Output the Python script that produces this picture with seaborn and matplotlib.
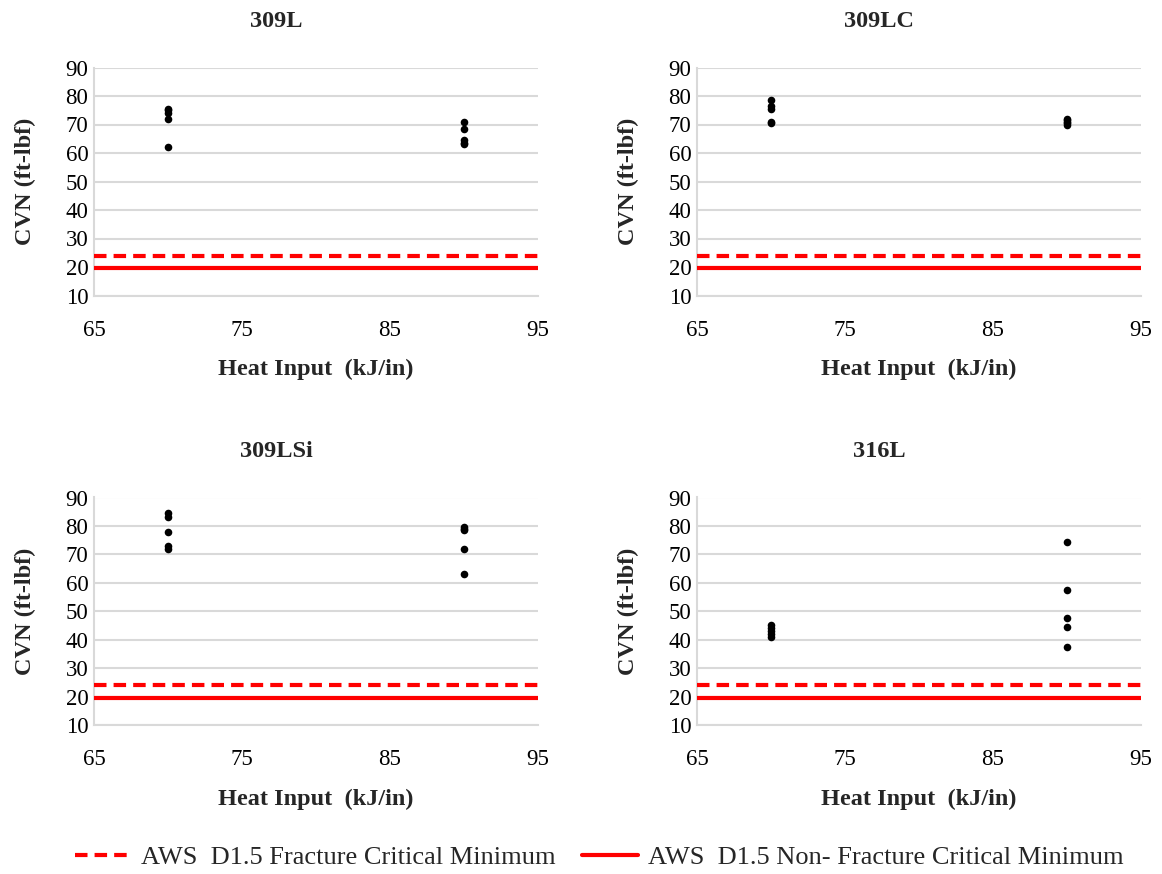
import matplotlib
matplotlib.use('Agg')
import matplotlib.pyplot as plt
import seaborn as sns
import pandas as pd
from matplotlib.lines import Line2D

# CVN results (ft-lbf) at two heat inputs (kJ/in)
alloys = ['309L', '309LC', '309LSi', '316L']
heat_70 = [70, 70, 70, 70, 70]
heat_90 = [90, 90, 90, 90, 90]
cvn_309L_70 = [75.5, 75, 74, 72, 62]
cvn_309L_90 = [71, 68.5, 64.5, 63.5, 63]
cvn_309LC_70 = [78.5, 76.5, 75.5, 71, 70.5]
cvn_309LC_90 = [72, 71.5, 71, 70.5, 70]
cvn_309LSi_70 = [84.5, 83, 78, 73, 72]
cvn_309LSi_90 = [79.5, 79, 78.5, 72, 63]
cvn_316L_70 = [45, 44, 43, 42, 41]
cvn_316L_90 = [74.5, 57.5, 47.5, 44.5, 37.5]

fracture_critical_min = 24
non_fracture_critical_min = 19.5

x_ticks = [65, 75, 85, 95]
y_ticks = [10, 20, 30, 40, 50, 60, 70, 80, 90]

cvn = {
    '309L': (cvn_309L_70, cvn_309L_90),
    '309LC': (cvn_309LC_70, cvn_309LC_90),
    '309LSi': (cvn_309LSi_70, cvn_309LSi_90),
    '316L': (cvn_316L_70, cvn_316L_90),
}

sns.set_theme(style='white')
plt.rcParams['font.family'] = ['Liberation Serif', 'DejaVu Serif']

W, H = 1162, 874
fig = plt.figure(figsize=(W / 100, H / 100), dpi=100)
fig.set_facecolor('white')

# axes boxes in pixels: left, top(90), right, bottom(10)
boxes = {
    '309L': (94, 67.5, 538, 295.5),
    '309LC': (697, 67.5, 1141, 295.5),
    '309LSi': (94, 497.5, 538, 725),
    '316L': (697, 497.5, 1141, 725),
}

grid_col = '#d9d9d9'

for name in alloys:
    l, t, r, b = boxes[name]
    ax = fig.add_axes([l / W, 1 - b / H, (r - l) / W, (b - t) / H])
    lo, hi = cvn[name]
    df = pd.DataFrame({'heat': heat_70 + heat_90, 'cvn': lo + hi})
    sns.scatterplot(data=df, x='heat', y='cvn', color='black', s=30,
                    edgecolor='black', linewidth=0, ax=ax, zorder=4)
    ax.axhline(fracture_critical_min, color='red', lw=3, dashes=(3, 1.7), zorder=3)
    ax.axhline(non_fracture_critical_min, color='red', lw=3, zorder=3)

    ax.set_xlim(65, 95)
    ax.set_ylim(10, 90)
    ax.set_xticks(x_ticks)
    ax.set_yticks(y_ticks)
    ax.tick_params(axis='both', length=0, labelsize=16.5, colors='black')
    ax.tick_params(axis='x', pad=17.5)
    ax.tick_params(axis='y', pad=4)
    ax.grid(axis='y', color=grid_col, lw=1.5, zorder=0)
    ax.grid(axis='x', visible=False)
    for s in ['top', 'right']:
        ax.spines[s].set_visible(False)
    ax.spines['left'].set_color(grid_col)
    ax.spines['left'].set_linewidth(1.5)
    ax.spines['bottom'].set_color(grid_col)
    ax.spines['bottom'].set_linewidth(1.5)

    ax.set_xlabel('Heat Input  (kJ/in)', fontsize=17.5, fontweight='bold', labelpad=13)
    ax.set_ylabel('')
    fig.text((l - 69) / W, 1 - ((t + b) / 2) / H, 'CVN (ft-lbf)', rotation=90,
             ha='center', va='center', fontsize=17.5, fontweight='bold')
    fig.text((l + 182) / W, 1 - (t - 46) / H, name, ha='center', va='center',
             fontsize=17.5, fontweight='bold')

handles = [
    Line2D([0], [0], color='red', lw=3, dashes=(3, 1.7)),
    Line2D([0], [0], color='red', lw=3),
]
labels = ['AWS  D1.5 Fracture Critical Minimum', 'AWS  D1.5 Non- Fracture Critical Minimum']
fig.legend(handles, labels, loc='center', bbox_to_anchor=(0.516, 1 - 857 / H), ncol=2,
           frameon=False, fontsize=19, handlelength=2.1, columnspacing=1.0, handletextpad=0.4)

fig.savefig('out.png', dpi=100, facecolor='white')
